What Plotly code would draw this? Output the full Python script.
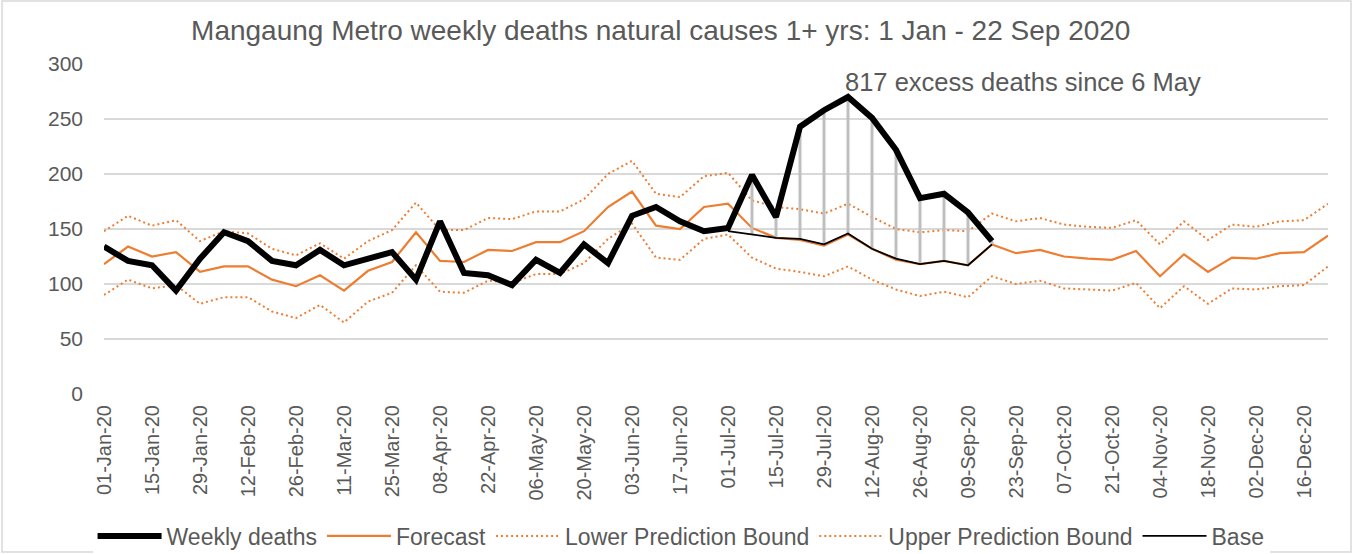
import plotly.graph_objects as go

weeks = ["01-Jan-20", "08-Jan-20", "15-Jan-20", "22-Jan-20", "29-Jan-20", "05-Feb-20", "12-Feb-20",
         "19-Feb-20", "26-Feb-20", "04-Mar-20", "11-Mar-20", "18-Mar-20", "25-Mar-20", "01-Apr-20",
         "08-Apr-20", "15-Apr-20", "22-Apr-20", "29-Apr-20", "06-May-20", "13-May-20", "20-May-20",
         "27-May-20", "03-Jun-20", "10-Jun-20", "17-Jun-20", "24-Jun-20", "01-Jul-20", "08-Jul-20",
         "15-Jul-20", "22-Jul-20", "29-Jul-20", "05-Aug-20", "12-Aug-20", "19-Aug-20", "26-Aug-20",
         "02-Sep-20", "09-Sep-20", "16-Sep-20", "23-Sep-20", "30-Sep-20", "07-Oct-20", "14-Oct-20",
         "21-Oct-20", "28-Oct-20", "04-Nov-20", "11-Nov-20", "18-Nov-20", "25-Nov-20", "02-Dec-20",
         "09-Dec-20", "16-Dec-20", "23-Dec-20"]

weekly_deaths = [134, 121, 117, 94, 123, 147, 139, 121, 117, 131, 117, 123, 129, 104, 157, 110, 108, 99,
                 122, 110, 136, 119, 162, 170, 157, 148, 151, 199, 161, 243, 258, 270, 251, 222, 178,
                 182, 165, 139]

forecast = [118, 134, 125, 129, 111, 116, 116, 104, 98, 108, 94, 112, 120, 147, 121, 120, 131, 130, 138,
            138, 148, 170, 184, 153, 150, 170, 173, 151, 142, 140, 135, 145, 132, 122, 118, 121, 117,
            136, 128, 131, 125, 123, 122, 130, 107, 127, 111, 124, 123, 128, 129, 144]

lower_bound = [90, 104, 96, 99, 82, 88, 88, 75, 69, 81, 65, 84, 92, 117, 93, 92, 103, 101, 109, 109, 119,
               141, 155, 124, 122, 141, 145, 124, 114, 111, 107, 116, 104, 95, 89, 93, 88, 107, 100,
               103, 96, 95, 94, 101, 78, 98, 82, 96, 95, 98, 99, 116]

upper_bound = [148, 162, 153, 158, 139, 148, 146, 132, 126, 137, 123, 139, 149, 174, 149, 149, 160, 159,
               166, 166, 177, 200, 212, 182, 179, 198, 201, 176, 170, 168, 164, 173, 161, 150, 147, 149,
               148, 164, 157, 160, 154, 152, 151, 158, 136, 157, 140, 154, 152, 157, 158, 173]

base_weeks = weeks[26:38]
base = [148, 145, 142, 141, 136, 146, 132, 123, 118, 121, 117, 136]

tick_labels = weeks[::2]
y_ticks = [0, 50, 100, 150, 200, 250, 300]

ORANGE = "#ED7D31"
GREY_TXT = "#595959"
FONT = "Liberation Sans, Arial, sans-serif"

fig = go.Figure()

fig.add_trace(go.Scatter(x=weeks, y=lower_bound, name="Lower Prediction Bound", mode="lines",
                         line=dict(color=ORANGE, width=2, dash="2px,3px"), legendrank=3))
fig.add_trace(go.Scatter(x=weeks, y=upper_bound, name="Upper Prediction Bound", mode="lines",
                         line=dict(color=ORANGE, width=2, dash="2px,3px"), legendrank=4))
fig.add_trace(go.Scatter(x=weeks, y=forecast, name="Forecast", mode="lines",
                         line=dict(color=ORANGE, width=2.2), legendrank=2))

# high-low (drop) lines between weekly deaths and base
wd = dict(zip(weeks, weekly_deaths))
dx, dy = [], []
for w, b in zip(base_weeks, base):
    dx += [w, w, None]
    dy += [wd[w], b, None]
fig.add_trace(go.Scatter(x=dx, y=dy, mode="lines", showlegend=False, hoverinfo="skip",
                         line=dict(color="#BFBFBF", width=3)))

fig.add_trace(go.Scatter(x=base_weeks, y=base, name="Base", mode="lines",
                         line=dict(color="#000000", width=1.8), legendrank=5))
fig.add_trace(go.Scatter(x=weeks[:len(weekly_deaths)], y=weekly_deaths, name="Weekly deaths",
                         mode="lines", line=dict(color="#000000", width=6), legendrank=1))

L, R, T, B = 104, 26, 64, 160
W, H = 1354, 554
pw, ph = W - L - R, H - T - B

fig.update_layout(
    width=W, height=H,
    margin=dict(l=L, r=R, t=T, b=B),
    paper_bgcolor="white", plot_bgcolor="white",
    font=dict(family=FONT, color=GREY_TXT),
    title=dict(text="Mangaung Metro weekly deaths natural causes 1+ yrs: 1 Jan - 22 Sep 2020",
               x=0.488, xref="container", xanchor="center",
               y=1 - 30 / H, yref="container", yanchor="middle",
               font=dict(size=28, color=GREY_TXT, family=FONT)),
    xaxis=dict(type="category", categoryorder="array", categoryarray=weeks,
               range=[0, len(weeks) - 1], tickvals=tick_labels, ticktext=tick_labels,
               tickangle=-90, tickfont=dict(size=20, color=GREY_TXT), showgrid=False,
               zeroline=False, showline=False, ticks="", ticklabelstandoff=6),
    yaxis=dict(range=[0, 300], tickvals=y_ticks, showgrid=True, gridcolor="#D9D9D9",
               gridwidth=1.5, zeroline=False, showline=False, ticks="",
               tickfont=dict(size=21, color=GREY_TXT), ticklabelstandoff=20),
    legend=dict(orientation="h", xref="container", x=0.503, xanchor="center",
                yref="container", y=1 - 536 / H, yanchor="middle",
                font=dict(size=23, color=GREY_TXT), traceorder="normal", itemwidth=64),
    showlegend=True,
)

fig.add_annotation(text="817 excess deaths since 6 May", xref="paper", yref="y",
                   x=(843 - L) / pw, y=(394 - 82) / 1.1, xanchor="left", yanchor="middle",
                   showarrow=False, font=dict(size=25.5, color=GREY_TXT, family=FONT))

fig.add_shape(type="rect", xref="paper", yref="paper",
              x0=(2 - L) / pw, x1=(1351 - L) / pw, y0=(394 - 552) / ph, y1=(394 - 1) / ph,
              line=dict(color="#D9D9D9", width=1.5), fillcolor="rgba(0,0,0,0)", layer="below")

fig.write_html("out.html", config={"displayModeBar": False},
               post_script="document.body.style.margin='0';")
